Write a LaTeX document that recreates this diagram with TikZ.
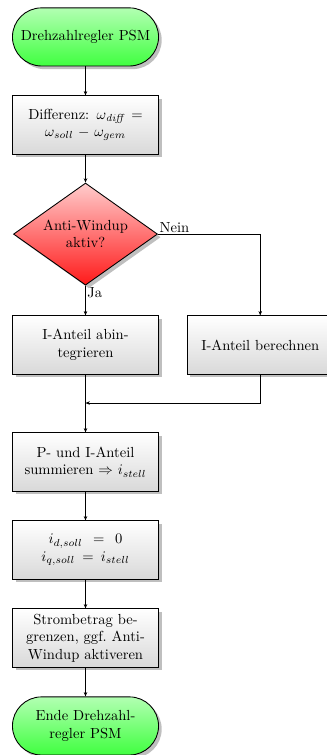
\documentclass[tikz,border=0pt]{standalone}
\usepackage{amsmath}
\usetikzlibrary{arrows.meta,shapes.geometric,shadows}

\begin{document}
\begin{tikzpicture}[
  startstop/.style={rectangle, rounded corners=0.7cm, draw, semithick, minimum width=3.52cm, minimum height=1.4cm, text width=3.2cm, align=center, top color=green!30, bottom color=green!75, drop shadow},
  process/.style={rectangle, draw, semithick, minimum width=3.52cm, minimum height=1.4cm, text width=3.2cm, align=center, top color=white, bottom color=black!15, drop shadow},
  decision/.style={diamond, draw, semithick, aspect=1.41, inner sep=0pt, minimum width=3.47cm, minimum height=2.46cm, align=center, top color=red!20, bottom color=red!90, drop shadow},
  arrow/.style={-{Stealth[length=3pt,width=2.4pt]}, thin}
]

\useasboundingbox (0,0) rectangle (7.86,-18.19);

\node[startstop] (start) at (2.06,-0.89) {Drehzahlregler PSM};
\node[process] (diff) at (2.06,-3.01) {Differenz: $\omega_{\mathit{diff}} =$\\ $\omega_{soll} - \omega_{gem}$};
\node[decision] (windup) at (2.06,-5.64) {Anti-Windup\\ aktiv?};
\node[process] (abint) at (2.06,-8.31) {I-Anteil abin-\\ tegrieren};
\node[process] (calc) at (6.27,-8.31) {I-Anteil berechnen};
\coordinate (merge) at (2.06,-9.71);
\node[process] (psum) at (2.06,-11.13) {P- und I-Anteil\\ summieren $\Rightarrow i_{stell}$};
\node[process] (iset) at (2.06,-13.25) {$i_{d,soll} \mathrel{\,=\,} 0$\\ $i_{q,soll} = i_{stell}$};
\node[process] (limit) at (2.06,-15.37) {Strombetrag be-\\ grenzen, ggf.\ Anti-\\ Windup aktiveren};
\node[startstop] (stop) at (2.06,-17.49) {Ende Drehzahl-\\ regler PSM};

\draw[arrow] (start) -- (diff);
\draw[arrow] (diff) -- (windup);
\draw[arrow] (windup) -- (abint);
\draw[arrow] (windup.east) -| (calc.north);
\draw[arrow] (abint) -- (psum);
\draw[arrow] (calc.south) |- (merge);
\draw[arrow] (psum) -- (iset);
\draw[arrow] (iset) -- (limit);
\draw[arrow] (limit) -- (stop);

\node[anchor=north west, inner sep=1pt] (ja) at (windup.south) {Ja};
\node[anchor=south west, inner sep=1pt] (nein) at (windup.east) {Nein};

\end{tikzpicture}
\end{document}
